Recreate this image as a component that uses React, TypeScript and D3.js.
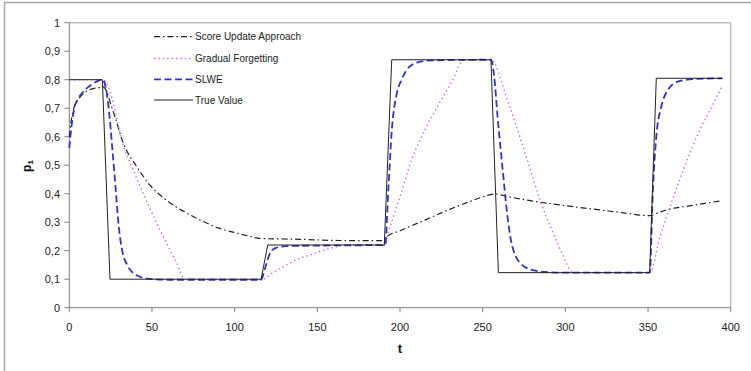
import React from "react";
import * as d3 from "d3";

const xTicks = [0, 50, 100, 150, 200, 250, 300, 350, 400];
const yTicks = [0, 0.1, 0.2, 0.3, 0.4, 0.5, 0.6, 0.7, 0.8, 0.9, 1];

const seriesNames = ["Score Update Approach", "Gradual Forgetting", "SLWE", "True Value"];

const scoreT = [0, 1, 3, 6, 10, 14, 18, 20.5, 22.5, 25, 27.6, 32.7, 40.8, 48.8, 57, 67, 79, 90, 99, 108, 115, 140, 160, 190, 192, 200, 216, 230, 242, 248, 257.5, 265, 282.7, 300, 321, 335, 351, 356, 361, 375, 394];
const scoreV = [0.6, 0.65, 0.705, 0.735, 0.758, 0.768, 0.772, 0.775, 0.76, 0.715, 0.67, 0.577, 0.495, 0.43, 0.385, 0.345, 0.308, 0.28, 0.265, 0.252, 0.243, 0.24, 0.236, 0.235, 0.249, 0.27, 0.31, 0.345, 0.372, 0.385, 0.399, 0.39, 0.372, 0.358, 0.343, 0.333, 0.323, 0.333, 0.343, 0.357, 0.375];

const gradT = [0, 20, 23.6, 27.6, 31.7, 38.7, 44.8, 52.9, 65, 70, 116, 123, 131.5, 138, 145.6, 153, 161.7, 166, 191, 192, 196, 200, 207, 216, 226, 232, 237.3, 240, 255.4, 260.5, 264, 268.5, 277.6, 284.7, 292.7, 298, 303.8, 305, 351, 357.3, 363.3, 371.3, 381.4, 389.5, 395];
const gradV = [0.8, 0.8, 0.775, 0.694, 0.588, 0.483, 0.4, 0.296, 0.156, 0.1, 0.098, 0.122, 0.15, 0.17, 0.185, 0.2, 0.214, 0.22, 0.22, 0.243, 0.32, 0.389, 0.518, 0.635, 0.74, 0.8, 0.863, 0.87, 0.87, 0.81, 0.745, 0.67, 0.507, 0.378, 0.261, 0.19, 0.126, 0.123, 0.123, 0.249, 0.354, 0.483, 0.624, 0.717, 0.78];

const slweT = [0, 1, 2, 3, 5, 8, 11, 14, 17, 20, 22, 24, 26, 28, 30, 32, 35, 38, 41, 47, 60, 116, 118, 120, 122, 125, 131, 150, 191, 193, 195, 198, 201, 204, 208, 212, 220, 255, 257, 259, 262, 265, 267, 270, 273, 277, 282, 287, 300, 351, 353, 355, 358, 362, 368, 377, 395];
const slweV = [0.56, 0.62, 0.665, 0.7, 0.73, 0.755, 0.772, 0.785, 0.795, 0.8, 0.775, 0.69, 0.56, 0.42, 0.28, 0.2, 0.15, 0.125, 0.113, 0.102, 0.098, 0.098, 0.13, 0.17, 0.198, 0.21, 0.216, 0.218, 0.22, 0.42, 0.62, 0.75, 0.8, 0.834, 0.855, 0.863, 0.868, 0.87, 0.81, 0.67, 0.49, 0.32, 0.24, 0.18, 0.155, 0.138, 0.13, 0.126, 0.123, 0.123, 0.42, 0.6, 0.705, 0.764, 0.793, 0.802, 0.805];

const trueT = [0, 20, 24.6, 116, 120, 190.5, 195, 255, 259.5, 351, 355, 395];
const trueV = [0.8, 0.8, 0.1, 0.1, 0.22, 0.22, 0.87, 0.87, 0.123, 0.123, 0.805, 0.805];

const W = 751;
const H = 371;
const left = 69.3;
const right = 730.7;
const top = 22.7;
const bottom = 307.7;

const styles = [
  { color: "#222", width: 1.2, dash: "6 3 1.5 3" },
  { color: "#cc66ff", width: 1.4, dash: "1.4 3" },
  { color: "#3333cc", width: 1.8, dash: "7 3.5" },
  { color: "#222", width: 1, dash: "" },
];

export default function App() {
  const x = d3.scaleLinear().domain([0, 400]).range([left, right]);
  const y = d3.scaleLinear().domain([0, 1]).range([bottom, top]);
  const mk = (ts: number[], vs: number[], curve: any) =>
    d3
      .line<number>()
      .x((_, i) => x(ts[i]))
      .y((v) => y(v))
      .curve(curve)(vs) || "";

  const paths = [
    mk(scoreT, scoreV, d3.curveMonotoneX),
    mk(gradT, gradV, d3.curveMonotoneX),
    mk(slweT, slweV, d3.curveMonotoneX),
    mk(trueT, trueV, d3.curveLinear),
  ];
  const fmt = (v: number) => (v === 0 ? "0" : v === 1 ? "1" : d3.format(".1f")(v).replace(".", ","));
  const font = "'Liberation Sans', Arial, sans-serif";
  const legendY = [36.7, 58.5, 79.3, 100];

  return (
    <svg width={W} height={H} style={{ position: "absolute", left: 0, top: 0, background: "#fff" }} fontFamily={font}>
      <rect x={0} y={0} width={W} height={H} fill="#fff" />
      <rect x={4.5} y={2.5} width={800} height={400} fill="none" stroke="#a8a8a8" strokeWidth={1.5} />
      {/* plot area border */}
      <line x1={left} y1={top} x2={right} y2={top} stroke="#c0c0c0" strokeWidth={1.5} />
      <line x1={right} y1={top} x2={right} y2={bottom} stroke="#c0c0c0" strokeWidth={1.5} />
      {/* axes */}
      <line x1={left} y1={top} x2={left} y2={bottom} stroke="#808080" strokeWidth={1} />
      <line x1={left} y1={bottom} x2={right} y2={bottom} stroke="#808080" strokeWidth={1} />
      {yTicks.map((t) => (
        <g key={"y" + t}>
          <line x1={left - 5} x2={left} y1={y(t)} y2={y(t)} stroke="#808080" />
          <text x={60} y={y(t) + 3.8} textAnchor="end" fontSize={11} fill="#222">
            {fmt(t)}
          </text>
        </g>
      ))}
      {xTicks.map((t) => (
        <g key={"x" + t}>
          <line x1={x(t)} x2={x(t)} y1={bottom} y2={bottom + 4.5} stroke="#808080" />
          <text x={x(t)} y={330.5} textAnchor="middle" fontSize={11} fill="#222">
            {t}
          </text>
        </g>
      ))}
      <text x={(left + right) / 2} y={353} textAnchor="middle" fontSize={13} fontWeight="bold" fill="#111">
        t
      </text>
      <text transform="translate(31,166) rotate(-90)" textAnchor="middle" fontSize={12} fontWeight="bold" fill="#111">
        p<tspan fontSize={8} dy={2}>1</tspan>
      </text>
      {paths.map((d, i) => (
        <path
          key={"p" + i}
          d={d}
          fill="none"
          stroke={styles[i].color}
          strokeWidth={styles[i].width}
          strokeDasharray={styles[i].dash || undefined}
        />
      ))}
      {seriesNames.map((n, i) => (
        <g key={"l" + i}>
          <line
            x1={154}
            x2={193}
            y1={legendY[i]}
            y2={legendY[i]}
            stroke={styles[i].color}
            strokeWidth={styles[i].width}
            strokeDasharray={styles[i].dash || undefined}
          />
          <text x={195} y={legendY[i] + 3.6} fontSize={10} fill="#222">
            {n}
          </text>
        </g>
      ))}
    </svg>
  );
}
